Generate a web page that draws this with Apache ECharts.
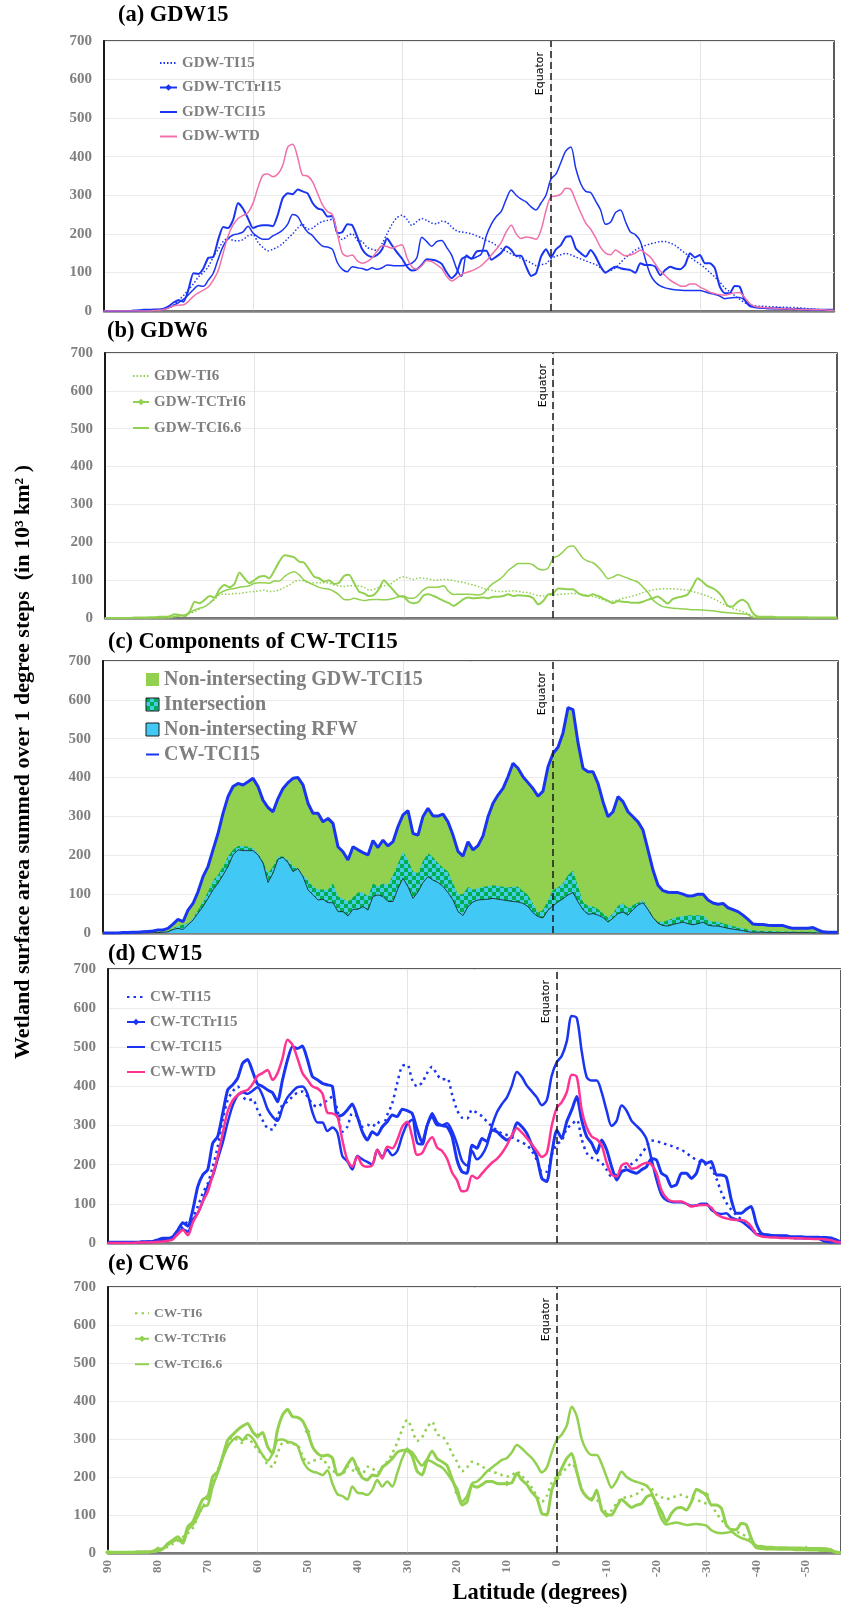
<!DOCTYPE html>
<html>
<head>
<meta charset="utf-8">
<script src="https://cdn.jsdelivr.net/npm/echarts@6.0.0/dist/echarts.min.js"></script>
<style>
  body { margin: 0; background: #fff; }
  #chart { width: 841px; height: 1609px; }
</style>
</head>
<body>
<div id="chart"></div>
<script>
// latitude categories, 1 degree steps from 90N down to 57S
const latitudes = [];
for (let v = 90; v >= -57; v--) latitudes.push(String(v));

// (a) GDW15   rows: 90..81, 80..71, ... , -50..-57
const gdwTI15 = [0,0,0,0,0,0,0,1,1,2, 2,3,5,8,15,28,40,55,70,88, 100,115,140,160,180,188,183,182,185,195,
  198,178,165,156,160,166,175,188,200,215, 225,212,215,225,232,235,238,200,185,195, 200,183,180,165,160,157,175,200,225,242,
  248,238,222,232,240,235,228,226,233,230, 218,208,205,203,200,195,190,183,178,170, 162,155,148,142,136,131,125,118,120,123,
  135,142,146,149,146,140,135,130,125,120, 112,101,105,112,125,138,148,158,165,170, 174,177,180,180,176,170,160,150,140,130,
  122,112,100,88,75,60,50,40,30,22, 16,14,12,12,11,11,10,10,9,9, 8,7,6,5,4,3,3,2];
const gdwTCTrI15 = [0,0,0,0,0,0,1,2,3,3, 4,4,6,12,22,28,24,55,98,96, 110,138,140,185,218,215,236,280,265,240,
  215,220,222,222,220,250,293,305,303,315, 310,305,280,266,262,245,246,202,205,225, 222,192,160,145,140,145,160,188,170,152,
  136,115,105,108,120,134,133,130,122,100, 85,98,134,141,136,154,156,156,133,141, 151,167,158,143,143,115,91,98,141,160,
  139,160,171,192,194,162,150,141,158,141, 115,99,108,115,111,108,106,99,124,119, 119,115,93,106,115,110,108,119,150,139,
  145,124,124,111,63,46,46,65,63,29, 13,10,9,8,8,7,7,6,6,5, 5,4,4,4,3,3,3,3];
const gdwTCI15 = [0,0,0,0,0,0,0,0,0,1, 1,2,4,8,14,22,30,42,55,66, 64,80,98,135,168,188,197,200,205,220,
  202,192,186,186,195,201,210,225,250,245, 222,205,195,180,168,166,160,125,108,102, 115,112,110,106,112,108,112,119,118,117,
  117,120,124,138,191,180,168,180,183,165, 145,110,90,145,135,140,148,195,225,245, 258,290,314,300,290,283,270,262,280,300,
  342,355,385,415,425,370,330,310,307,285, 262,225,230,255,262,232,205,198,180,135, 95,75,65,60,57,55,54,53,53,53,
  53,50,46,43,39,32,34,35,35,28, 15,10,8,7,6,6,5,5,5,4, 4,4,3,3,3,2,2,2];
const gdwWTD = [0,0,0,0,0,0,0,0,0,0, 1,2,4,8,13,15,16,25,38,47, 54,62,80,105,150,195,223,240,248,255,
  279,320,352,355,348,355,378,425,432,398, 352,350,335,305,275,258,250,200,150,142, 145,130,124,128,138,155,169,167,163,168,
  172,138,115,108,118,130,128,120,110,90, 78,85,95,100,104,110,118,130,145,160, 178,205,222,200,188,192,190,186,210,260,
  296,298,303,318,315,285,255,228,212,190, 165,150,146,158,150,143,145,150,158,150, 140,122,104,92,80,72,65,64,70,70,
  62,56,49,45,42,41,44,47,48,35, 20,12,10,9,8,7,6,6,5,5, 4,4,4,3,3,3,2,2];

// (b) GDW6
const gdwTI6 = [0,0,0,0,0,0,0,0,0,0, 0,0,0,1,3,5,8,12,17,23, 30,40,49,61,63,63,65,65,67,69,
  70,72,74,70,71,74,81,87,96,99, 98,93,93,93,93,92,87,85,83,85, 85,85,81,74,76,81,85,87,96,105,
  109,105,102,106,105,103,100,101,102,101, 99,96,94,90,87,83,78,75,72,70, 70,71,72,70,68,67,63,59,58,60,
  61,62,63,64,65,64,62,60,57,53, 48,44,45,48,52,55,58,62,67,71, 74,76,77,77,77,76,75,73,70,66,
  62,58,52,46,38,31,26,21,17,12, 5,2,1,1,1,0,0,0,0,0, 0,0,0,0,0,0,0,0];
const gdwTCTrI6 = [0,0,0,0,0,0,1,1,1,2, 2,3,3,5,10,8,5,17,43,39, 48,58,54,76,87,81,90,120,105,92,
  100,109,111,105,125,149,166,164,160,149, 146,128,109,105,96,100,90,93,111,114, 93,70,65,58,61,76,100,87,72,58,
  56,43,39,43,60,63,58,52,45,40, 32,40,50,54,52,53,54,52,56,56, 58,63,58,60,59,58,52,36,45,62,
  65,78,77,76,76,66,60,58,63,58, 52,45,39,45,43,42,40,40,43,48, 52,57,48,38,50,54,57,62,83,105,
  96,84,79,70,55,33,30,42,48,40, 15,4,3,3,3,2,2,2,2,2, 2,2,1,1,1,1,1,1];
const gdwTCI66 = [0,0,0,0,0,0,0,0,0,0, 0,0,0,1,4,6,8,14,21,26, 30,39,52,65,72,76,78,81,83,85,
  92,93,93,92,98,98,109,118,122,114, 100,93,87,81,78,76,70,61,49,48, 52,49,46,48,49,49,48,49,52,56,
  58,52,52,62,75,81,81,82,85,70, 62,63,63,63,62,61,65,80,92,100, 111,126,136,144,144,144,140,130,127,132,
  158,164,175,188,190,175,158,150,146,135, 120,104,108,114,110,105,100,95,82,68, 48,37,30,28,26,25,24,23,22,22,
  21,20,19,17,15,14,13,12,11,10, 2,0,0,0,0,0,0,0,0,0, 0,0,0,0,0,0,0,0];

// (c) components of CW-TCI15: upper edges of the three layers
const cwTCI15 = [0,0,0,0,1,1,2,2,3,4, 5,8,8,12,23,35,29,59,76,106, 145,171,214,256,308,351,377,385,381,389,
  398,377,342,323,312,346,372,387,398,400, 381,334,308,308,286,295,282,222,209,188, 222,214,207,201,238,220,239,224,235,274,
  304,315,256,252,300,321,301,301,306,286, 252,210,198,235,214,225,250,299,334,355, 372,402,437,424,402,387,372,352,365,428,
  462,478,515,580,575,490,424,415,415,385, 338,299,312,351,338,312,299,286,265,214, 162,123,109,105,104,104,100,95,96,100,
  100,85,77,74,76,65,60,55,46,35, 23,22,22,20,19,19,19,15,12,12, 12,12,14,8,3,2,2,2];
const intersectionTop = [0,0,0,0,0,0,0,0,1,1, 2,2,3,4,12,18,21,25,38,59, 81,106,135,149,171,197,214,224,224,222,
  218,205,184,154,171,197,197,188,172,166, 149,136,119,112,112,111,128,94,89,81, 92,104,104,94,128,119,128,123,149,179,
  209,188,158,154,185,205,195,180,168,158, 128,100,100,119,111,115,119,120,123,121, 119,117,119,119,108,98,76,52,59,85,
  111,117,128,149,160,120,80,70,68,62, 50,40,50,70,76,65,72,78,84,66, 40,29,29,33,38,41,44,45,46,46,
  46,33,29,29,25,21,18,15,12,9, 7,6,5,5,5,4,4,4,4,3, 3,3,3,3,3,3,3,3];
const rfwTop = [0,0,0,0,0,0,0,0,0,0, 1,1,2,3,9,12,9,21,33,51, 68,89,111,128,149,171,201,214,212,212,
  212,201,180,130,154,190,195,181,158,166, 145,111,98,85,87,78,78,55,55,44, 61,61,68,59,94,98,94,81,81,115,
  141,119,89,106,130,145,136,130,120,104, 85,55,45,68,80,85,86,87,89,87, 85,83,81,80,76,68,52,42,39,59,
  70,80,88,98,104,80,60,48,50,46, 40,28,38,50,54,46,60,72,78,60, 40,25,19,18,22,25,28,24,21,24,
  28,20,18,18,15,12,10,8,6,3, 2,2,2,1,1,1,1,1,1,1, 1,1,0,0,0,0,0,0];

// (d) CW15 (CW-TCI15 is the same curve as in panel c)
const cwTI15 = [2,2,2,2,2,2,2,3,3,4, 5,7,9,12,29,42,55,67,93,127, 152,195,246,314,365,387,400,374,365,367,
  340,314,293,290,323,353,361,374,384,387, 374,355,348,357,364,374,340,284,297,331, 323,297,302,297,310,297,327,357,408,452,
  455,417,400,410,434,450,430,418,420,380, 340,320,318,340,332,324,310,298,288,280, 276,270,263,257,250,235,212,182,182,225,
  252,262,292,303,314,265,230,218,213,205, 187,170,175,190,195,202,212,228,246,262, 260,256,252,248,243,238,230,220,213,206,
  200,190,165,130,103,85,72,60,50,38, 26,18,17,16,16,15,15,14,14,13, 13,12,12,11,11,10,8,5];
const cwTCTrI15 = [2,2,2,2,2,2,2,3,3,4, 8,12,12,16,33,52,43,84,144,174, 187,255,272,331,391,404,421,459,469,438,
  406,400,391,384,361,417,468,502,497,503, 468,425,417,408,404,400,323,327,340,355, 323,284,263,284,276,297,310,327,323,342,
  338,331,290,256,300,331,307,300,297,272, 212,182,178,250,242,267,259,289,284,272, 263,272,307,297,280,250,220,165,157,229,
  289,267,310,340,374,314,272,255,229,263, 238,195,161,182,187,182,178,187,195,216, 212,178,170,144,149,178,178,165,178,212,
  204,208,174,174,168,110,76,76,86,93, 50,25,20,18,18,17,17,16,16,16, 15,15,15,14,14,13,8,3];
const cwWTD = [0,0,0,0,0,0,1,1,2,2, 3,4,6,9,23,33,20,52,76,106, 131,174,221,280,336,364,378,387,391,406,
  427,434,442,417,434,472,519,506,472,434, 417,400,395,382,333,331,323,263,212,195, 221,199,195,199,238,216,246,242,263,297,
  310,272,225,230,255,270,244,235,215,180, 160,132,135,172,165,178,192,205,215,230, 250,275,293,282,268,252,235,220,230,300,
  345,360,385,430,425,340,295,272,265,250, 205,175,170,198,204,190,192,200,205,200, 178,135,115,107,106,106,100,93,96,97,
  97,90,74,67,63,60,59,59,55,42, 22,17,15,14,14,13,13,12,12,12, 11,11,10,10,9,7,3,2];

// (e) CW6
const cwTI6 = [0,0,0,0,0,0,1,1,2,3, 5,10,17,24,32,42,52,65,96,122, 144,183,218,254,293,304,297,290,302,289,
  271,258,232,227,262,289,290,287,284,258, 236,243,245,249,229,218,208,205,227,218, 211,208,227,223,211,227,240,262,290,325,
  350,325,295,305,330,345,312,308,290,262, 240,215,225,240,235,228,220,214,210,205, 201,205,215,202,190,172,150,135,150,185,
  200,210,225,236,214,168,148,144,140,122, 108,112,132,144,147,150,155,165,177,170, 153,147,142,145,150,153,148,144,140,135,
  130,126,105,88,72,63,57,50,44,32, 19,15,14,13,13,13,12,12,12,11, 11,11,10,10,10,8,3,2];
const cwTCTrI6 = [2,2,2,2,2,2,3,3,3,5, 10,12,25,34,43,30,69,82,113,141, 148,201,214,254,297,311,324,334,341,319,
  308,317,280,262,324,363,378,359,357,348, 320,280,262,255,258,250,205,210,232,250, 222,198,192,205,203,225,236,248,265,270,
  271,255,215,205,245,268,248,240,230,195, 160,126,135,178,173,180,188,188,183,182, 183,185,210,192,180,160,145,104,100,166,
  196,223,249,262,214,166,148,139,166,113, 100,100,122,141,130,120,126,130,148,153, 130,109,82,104,118,120,113,135,168,161,
  153,126,126,118,74,61,61,78,74,39, 17,18,15,15,14,14,14,13,13,13, 12,12,12,12,11,8,2,1];
const cwTCI66 = [0,0,0,0,0,0,1,1,2,3, 5,10,21,30,34,25,61,74,96,122, 126,175,210,249,280,297,306,297,311,302,
  280,258,243,262,297,299,293,290,282,245, 223,214,211,205,218,183,155,150,141,175, 159,157,153,166,192,175,188,175,210,249,
  271,265,245,230,245,240,232,225,210,190, 170,135,150,183,188,200,215,225,235,245, 250,265,284,275,262,250,232,212,225,265,
  298,312,335,385,360,300,270,258,258,235, 200,172,190,214,200,192,187,183,177,160, 125,90,75,78,80,77,74,75,76,75,
  72,60,54,52,53,56,47,40,35,28, 14,11,10,10,10,9,9,9,8,8, 8,7,7,6,6,5,2,1];

const yTicks = {min: 0, max: 700, interval: 100};

const blue = '#1a35f2';
const green = '#92d050';
const serif = 'Liberation Serif';
const gray = '#7f7f7f';

// checkered fill for the intersection layer
const checker = document.createElement('canvas');
checker.width = 8; checker.height = 8;
const cctx = checker.getContext('2d');
cctx.fillStyle = '#45cbe6'; cctx.fillRect(0, 0, 8, 8);
cctx.fillStyle = '#00b050'; cctx.fillRect(0, 0, 4, 4); cctx.fillRect(4, 4, 4, 4);
const checkerFill = {image: checker, repeat: 'repeat'};

const panels = [
  {left: 104, top: 41, width: 730, height: 270, title: '(a) GDW15', titleLeft: 118, titleTop: 4},
  {left: 105, top: 353, width: 732, height: 265, title: '(b) GDW6', titleLeft: 107, titleTop: 320},
  {left: 103, top: 661, width: 735, height: 272, title: '(c) Components of CW-TCI15', titleLeft: 108, titleTop: 631},
  {left: 108, top: 969, width: 733, height: 274, title: '(d) CW15', titleLeft: 108, titleTop: 943},
  {left: 108, top: 1287, width: 733, height: 266, title: '(e) CW6', titleLeft: 108, titleTop: 1253}
];

function equator() {
  return {
    silent: true,
    symbol: ['none', 'none'],
    lineStyle: {color: '#1a1a1a', type: [7, 4], width: 1.5},
    label: {show: true, formatter: 'Equator', position: 'insideEndTop', fontFamily: 'DejaVu Sans', fontSize: 11, color: '#000', distance: [11, 5]},
    data: [{xAxis: '0'}]
  };
}

function line(name, data, gi, color, width, opts) {
  opts = opts || {};
  let s = {
    name: name, type: 'line', xAxisIndex: gi, yAxisIndex: gi, data: data,
    symbol: opts.marker ? 'diamond' : 'none',
    symbolSize: opts.marker || 0,
    showSymbol: !!opts.marker,
    smooth: opts.smooth === undefined ? 0.3 : opts.smooth,
    itemStyle: {color: color},
    lineStyle: {color: color, width: width, type: opts.dash || 'solid'},
    z: opts.z || 3
  };
  if (opts.equator) s.markLine = equator();
  return s;
}

function area(name, data, gi, fill, z, edge) {
  return {
    name: name, type: 'line', xAxisIndex: gi, yAxisIndex: gi, data: data,
    symbol: 'none', showSymbol: false, smooth: false,
    itemStyle: {color: typeof fill === 'string' ? fill : '#00b050'},
    lineStyle: edge ? {color: '#1a1a1a', width: 0.8} : {width: 0},
    areaStyle: {color: fill, opacity: 1},
    z: z
  };
}

const legendText = function (size) {
  return {fontFamily: serif, fontWeight: 'bold', fontSize: size, color: gray, lineHeight: size + 1};
};
// legend entries: plain lines hide the symbol, marker series keep it
const withMarker = {opacity: 1};
function lineLegend(names, markerName) {
  return names.map(n => n === markerName ? {name: n, itemStyle: withMarker} : n);
}

let option = {
  animation: false,
  backgroundColor: '#fff',
  title: panels.map(p => ({
    text: p.title, left: p.titleLeft, top: p.titleTop, padding: 0,
    textStyle: {fontFamily: serif, fontWeight: 'bold', fontSize: 22.5, color: '#000'}
  })),
  grid: panels.map(p => ({
    left: p.left, top: p.top, width: p.width, height: p.height,
    show: true, borderColor: '#262626', borderWidth: 1.5, backgroundColor: 'transparent'
  })),
  xAxis: panels.map((p, i) => ({
    type: 'category', gridIndex: i, data: latitudes, boundaryGap: false,
    axisLine: {show: true, lineStyle: {color: '#808080', width: 2.5}},
    axisTick: {show: false},
    axisLabel: i === 4 ? {
      interval: (idx, v) => Number(v) % 10 === 0, rotate: 90, margin: 7,
      fontFamily: serif, fontWeight: 'bold', fontSize: 13, color: gray
    } : {show: false},
    splitLine: {show: true, interval: (idx, v) => Number(v) % 30 === 0, lineStyle: {color: '#e4e4e4', width: 1}}
  })),
  yAxis: panels.map((p, i) => ({
    type: 'value', gridIndex: i, min: yTicks.min, max: yTicks.max, interval: yTicks.interval,
    axisLine: {show: true, lineStyle: {color: '#1a1a1a', width: 2}},
    axisTick: {show: false},
    axisLabel: {fontFamily: serif, fontWeight: 'bold', fontSize: 15, color: gray, margin: 12},
    splitLine: {lineStyle: {color: '#ebebeb', width: 1}}
  })),
  legend: [
    {left: 154, top: 50, orient: 'vertical', itemGap: 8.5, itemWidth: 17, itemHeight: 8, selectedMode: false,
      itemStyle: {opacity: 0}, textStyle: legendText(15),
      data: lineLegend(['GDW-TI15', 'GDW-TCTrI15', 'GDW-TCI15', 'GDW-WTD'], 'GDW-TCTrI15')},
    {left: 127, top: 363, orient: 'vertical', itemGap: 10, itemWidth: 16, itemHeight: 8, selectedMode: false,
      itemStyle: {opacity: 0}, textStyle: legendText(15),
      data: lineLegend(['GDW-TI6', 'GDW-TCTrI6', 'GDW-TCI6.6'], 'GDW-TCTrI6')},
    {left: 140, top: 664, orient: 'vertical', itemGap: 4, itemWidth: 13, itemHeight: 13, selectedMode: false,
      itemStyle: {opacity: 0}, textStyle: legendText(20),
      data: [
        {name: 'Non-intersecting GDW-TCI15', icon: 'rect', itemStyle: {color: green, borderWidth: 0, opacity: 1}},
        {name: 'Intersection', icon: 'rect', itemStyle: {color: checkerFill, borderColor: '#1a1a1a', borderWidth: 1, opacity: 1}},
        {name: 'Non-intersecting RFW', icon: 'rect', itemStyle: {color: '#41c8f5', borderColor: '#1a1a1a', borderWidth: 1, opacity: 1}},
        'CW-TCI15'
      ]},
    {left: 121, top: 984, orient: 'vertical', itemGap: 9, itemWidth: 18, itemHeight: 8, selectedMode: false,
      itemStyle: {opacity: 0}, textStyle: legendText(15),
      data: lineLegend(['CW-TI15', 'CW-TCTrI15', 'CW-TCI15 ', 'CW-WTD'], 'CW-TCTrI15')},
    {left: 129, top: 1301, orient: 'vertical', itemGap: 11, itemWidth: 14, itemHeight: 8, selectedMode: false,
      itemStyle: {opacity: 0}, textStyle: legendText(13.5),
      data: lineLegend(['CW-TI6', 'CW-TCTrI6', 'CW-TCI6.6'], 'CW-TCTrI6')}
  ],
  graphic: [
    {type: 'text', x: 23, y: 762, rotation: Math.PI / 2,
      style: {text: 'Wetland surface area summed over 1 degree steps  (in 10\u00b3 km\u00b2 )', font: 'bold 22px "Liberation Serif"',
        fill: '#000', textAlign: 'center', textVerticalAlign: 'middle'}},
    {type: 'text', x: 540, y: 1593,
      style: {text: 'Latitude (degrees)', font: 'bold 22.5px "Liberation Serif"', fill: '#000', textAlign: 'center', textVerticalAlign: 'middle'}}
  ],
  series: [
    // (a)
    line('GDW-TI15', gdwTI15, 0, blue, 1.5, {dash: [1.5, 2], equator: true}),
    line('GDW-TCTrI15', gdwTCTrI15, 0, blue, 2, {marker: 5, smooth: 0.2}),
    line('GDW-TCI15', gdwTCI15, 0, blue, 1.5),
    line('GDW-WTD', gdwWTD, 0, '#f070aa', 1.5),
    // (b)
    line('GDW-TI6', gdwTI6, 1, green, 1.5, {dash: [1.5, 2], equator: true}),
    line('GDW-TCTrI6', gdwTCTrI6, 1, green, 2, {marker: 5, smooth: 0.2}),
    line('GDW-TCI6.6', gdwTCI66, 1, green, 1.5),
    // (c)
    Object.assign(area('Non-intersecting GDW-TCI15', cwTCI15, 2, green, 1, false), {markLine: equator()}),
    area('Intersection', intersectionTop, 2, checkerFill, 2, false),
    area('Non-intersecting RFW', rfwTop, 2, '#41c8f5', 3, true),
    line('CW-TCI15', cwTCI15, 2, blue, 3, {smooth: false, z: 4}),
    // (d)
    line('CW-TI15', cwTI15, 3, blue, 2.5, {dash: [2.5, 4], equator: true}),
    line('CW-TCTrI15', cwTCTrI15, 3, blue, 3, {marker: 6, smooth: 0.2}),
    line('CW-TCI15 ', cwTCI15, 3, blue, 2.5),
    line('CW-WTD', cwWTD, 3, '#ff3392', 2.5),
    // (e)
    line('CW-TI6', cwTI6, 4, green, 2.5, {dash: [2.5, 4], equator: true}),
    line('CW-TCTrI6', cwTCTrI6, 4, green, 3, {marker: 6, smooth: 0.2}),
    line('CW-TCI6.6', cwTCI66, 4, green, 2.5)
  ]
};

let chart = echarts.init(document.getElementById('chart'));
chart.setOption(option);
</script>
</body>
</html>
